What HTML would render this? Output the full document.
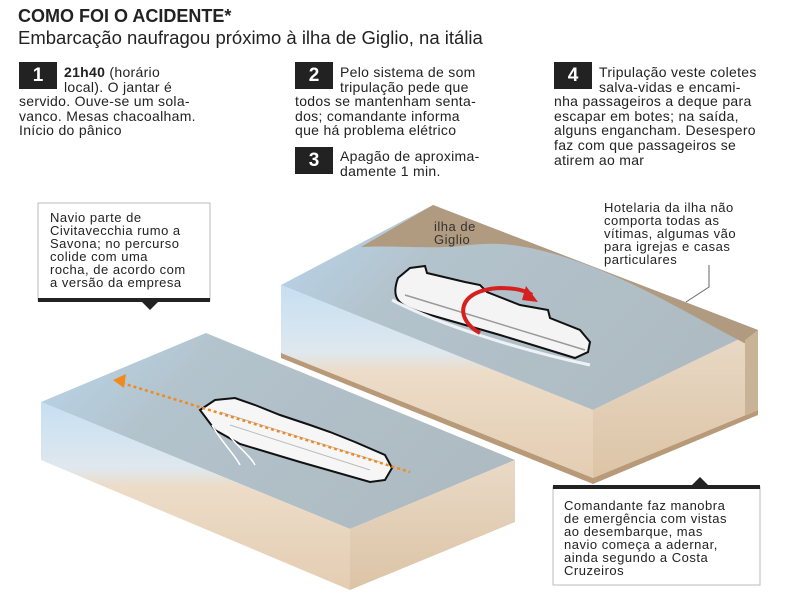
<!DOCTYPE html>
<html><head><meta charset="utf-8"><style>
body{margin:0;background:#fff;width:800px;height:600px;overflow:hidden;position:relative;font-family:"Liberation Sans",sans-serif;color:#222}
.t{position:absolute;font-size:14px;line-height:14.6px;letter-spacing:0.3px}
.c{position:absolute;font-size:13px;line-height:13px;letter-spacing:0.5px}
.n{position:absolute;background:#222;color:#fff;font:bold 19px "Liberation Sans",sans-serif;width:38px;height:27px;text-align:center;line-height:28px}
svg{position:absolute;left:0;top:0}
</style></head><body>
<svg width="800" height="600">
<defs>
<linearGradient id="w1" x1="0" y1="0" x2="1" y2="0.4"><stop offset="0" stop-color="#b9d6ee"/><stop offset="0.35" stop-color="#b3c3cc"/><stop offset="1" stop-color="#aebbc2"/></linearGradient>
<linearGradient id="f1" x1="0" y1="0" x2="0" y2="1"><stop offset="0" stop-color="#c6dff2"/><stop offset="0.35" stop-color="#dfe8ee"/><stop offset="0.45" stop-color="#ecdcc8"/><stop offset="1" stop-color="#e4cdb2"/></linearGradient>
<linearGradient id="r1" x1="0" y1="0" x2="0" y2="1"><stop offset="0" stop-color="#e9d9c6"/><stop offset="1" stop-color="#dcc4a6"/></linearGradient>
</defs>
<polygon points="281,285 433,205 758,330 593,410" fill="url(#w1)"/>
<polygon points="281,285 593,410 593,478 281,353" fill="url(#f1)"/>
<polygon points="593,410 758,330 758,410 593,478" fill="url(#r1)"/>
<polygon points="281,353 593,478 758,410 758,415 593,484 281,358" fill="#b89a78"/>
<path d="M361,247 L433,205 L758,330 L750,346 C700,320 650,290 600,270 C550,250 510,240 470,245 C430,250 400,245 361,247Z" fill="#b09a80"/>
<path d="M745,340 L758,330 L758,410 L745,415Z" fill="#c9b397"/>
<path d="M398,278 C390,300 400,305 420,312 L500,335 L575,358 L588,352 L590,342 L580,330 L550,318 L548,310 L520,305 L487,292 L480,285 L465,282 L427,273 L425,266 L410,268 Z" fill="#f4f4f4" stroke="#111" stroke-width="2"/>
<path d="M405,295 L585,350" stroke="#999" stroke-width="1.5" fill="none"/>
<path d="M392,300 C440,325 520,350 590,365" stroke="#eef2f6" stroke-width="3" fill="none"/>
<path d="M480,333 C455,320 455,290 500,288 C515,288 525,290 532,295" stroke="#d62020" stroke-width="4" fill="none"/>
<polygon points="526,286 538,302 522,300" fill="#d62020"/>
<polygon points="41,402 206,333 515,460 350,529" fill="url(#w1)"/>
<polygon points="41,402 350,529 350,590 41,460" fill="url(#f1)"/>
<polygon points="350,529 515,460 515,522 350,590" fill="url(#r1)"/>
<path d="M200,410 L215,400 L235,398 L255,405 L280,415 L310,425 L330,432 L355,442 L385,455 L392,468 L385,480 L370,482 L300,462 L240,444 L215,430Z" fill="#f6f6f6" stroke="#111" stroke-width="2"/>
<path d="M220,412 L380,462 M230,425 L370,470" stroke="#bbb" stroke-width="1" fill="none"/>
<path d="M212,425 C220,440 235,455 240,465 M225,430 C235,445 250,455 255,465" stroke="#fff" stroke-width="1.5" fill="none"/>
<line x1="122" y1="383" x2="410" y2="472" stroke="#f08a20" stroke-width="2.5" stroke-dasharray="3,3"/>
<polygon points="113,380 126,374 124,388" fill="#f08a20"/>
<rect x="38" y="203" width="172" height="97" fill="#fff" stroke="#bbb"/>
<rect x="38" y="298" width="172" height="4" fill="#222"/>
<polygon points="142,302 158,302 150,310" fill="#222"/>
<rect x="553" y="487" width="207" height="98" fill="#fff" stroke="#bbb"/>
<rect x="553" y="485" width="207" height="4" fill="#222"/>
<polygon points="692,485 708,485 700,477" fill="#222"/>
<polyline points="709,265 709,287 686,302" fill="none" stroke="#666"/>
</svg>
<div style="position:absolute;left:18px;top:6px;font:bold 18px 'Liberation Sans',sans-serif">COMO FOI O ACIDENTE*</div>
<div style="position:absolute;left:18px;top:27px;font-size:18.5px">Embarcação naufragou próximo à ilha de Giglio, na itália</div>
<div class="n" style="left:19px;top:62px">1</div>
<div class="t" style="left:19px;top:65px;width:220px;text-indent:45px"><b>21h40</b> (horário<br><span style="margin-left:45px"></span>local). O jantar é<br>servido. Ouve-se um sola-<br>vanco. Mesas chacoalham.<br>Início do pânico</div>
<div class="n" style="left:295px;top:62px">2</div>
<div class="t" style="left:295px;top:65px;width:220px;text-indent:45px">Pelo sistema de som<br><span style="margin-left:45px"></span>tripulação pede que<br>todos se mantenham senta-<br>dos; comandante informa<br>que há problema elétrico</div>
<div class="n" style="left:295px;top:147px">3</div>
<div class="t" style="left:340px;top:149px">Apagão de aproxima-<br>damente 1 min.</div>
<div class="n" style="left:554px;top:62px">4</div>
<div class="t" style="left:554px;top:65px;width:240px;text-indent:45px">Tripulação veste coletes<br><span style="margin-left:45px"></span>salva-vidas e encami-<br>nha passageiros a deque para<br>escapar em botes; na saída,<br>alguns engancham. Desespero<br>faz com que passageiros se<br>atirem ao mar</div>
<div class="c" style="left:50px;top:211px">Navio parte de<br>Civitavecchia rumo a<br>Savona; no percurso<br>colide com uma<br>rocha, de acordo com<br>a versão da empresa</div>
<div class="c" style="left:604px;top:201px">Hotelaria da ilha não<br>comporta todas as<br>vítimas, algumas vão<br>para igrejas e casas<br>particulares</div>
<div class="c" style="left:434px;top:220px;color:#333">ilha de<br>Giglio</div>
<div class="c" style="left:564px;top:499px">Comandante faz manobra<br>de emergência com vistas<br>ao desembarque, mas<br>navio começa a adernar,<br>ainda segundo a Costa<br>Cruzeiros</div>
</body></html>
